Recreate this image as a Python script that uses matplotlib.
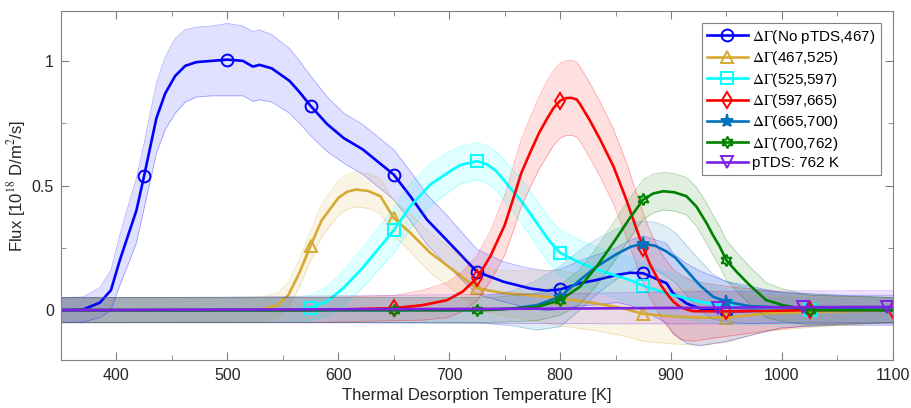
import numpy as np
import matplotlib
matplotlib.use("Agg")
import matplotlib.pyplot as plt

plt.rcParams["font.family"] = ["Liberation Sans", "DejaVu Sans"]
plt.rcParams["mathtext.fontset"] = "stix"

# temperature [K], flux [1e18 D/m^2/s], band half width, marker positions
blue_x = [350, 370, 385, 395, 403, 412, 418, 425, 436, 444, 453, 462, 472, 486, 500, 514, 523, 529, 540, 556,
          565, 575, 590, 605, 622, 650, 665, 680, 698, 725, 749, 773, 788, 800, 818, 833, 851, 863, 875, 896,
          902, 914, 926, 950, 1000, 1050, 1100]
blue_y = [0.0, 0.003, 0.03, 0.08, 0.2, 0.32, 0.40, 0.54, 0.77, 0.87, 0.94, 0.98, 0.995, 1.0, 1.005, 1.0, 0.977,
          0.984, 0.97, 0.92, 0.875, 0.82, 0.746, 0.69, 0.645, 0.544, 0.457, 0.363, 0.28, 0.154, 0.114, 0.087,
          0.078, 0.083, 0.108, 0.121, 0.141, 0.15, 0.148, 0.108, 0.067, 0.027, 0.007, -0.005, 0.0, 0.0, 0.0]
blue_err = [0.05, 0.05, 0.06, 0.08, 0.1, 0.12, 0.13, 0.13, 0.14, 0.145, 0.15, 0.145, 0.14, 0.14, 0.145, 0.14,
            0.14, 0.14, 0.135, 0.13, 0.125, 0.12, 0.11, 0.1, 0.1, 0.1, 0.1, 0.1, 0.1, 0.09, 0.08, 0.08, 0.08,
            0.08, 0.09, 0.1, 0.11, 0.13, 0.15, 0.16, 0.16, 0.16, 0.15, 0.12, 0.07, 0.06, 0.06]
blue_marks = [425, 500, 575, 650, 725, 800, 875, 950]

gold_x = [350, 500, 530, 545, 555, 565, 575, 585, 600, 608, 616, 627, 638, 650, 665, 683, 707, 725, 749, 773,
          800, 833, 857, 875, 900, 925, 950, 986, 1031, 1100]
gold_y = [0, 0, 0.002, 0.02, 0.06, 0.15, 0.258, 0.36, 0.45, 0.475, 0.484, 0.478, 0.457, 0.37, 0.31, 0.23, 0.149,
          0.088, 0.068, 0.06, 0.048, 0.027, 0.007, -0.015, -0.025, -0.03, -0.03, -0.013, -0.007, 0.0]
gold_err = [0.05, 0.05, 0.05, 0.05, 0.05, 0.055, 0.06, 0.065, 0.07, 0.07, 0.07, 0.07, 0.07, 0.07, 0.075, 0.08,
            0.08, 0.085, 0.09, 0.1, 0.11, 0.11, 0.11, 0.11, 0.11, 0.11, 0.1, 0.07, 0.06, 0.05]
gold_marks = [575, 650, 725, 800, 875, 950]

cyan_x = [350, 550, 565, 575, 590, 605, 622, 650, 665, 683, 701, 710, 725, 734, 742, 749, 756, 764, 771, 779,
          790, 800, 818, 839, 863, 875, 896, 926, 950, 975, 1025, 1100]
cyan_y = [0, 0, 0.003, 0.01, 0.035, 0.09, 0.17, 0.32, 0.417, 0.504, 0.558, 0.582, 0.598, 0.585, 0.56, 0.524,
          0.485, 0.444, 0.4, 0.35, 0.28, 0.23, 0.19, 0.154, 0.121, 0.098, 0.067, 0.034, 0.015, 0.008, 0.0, 0.0]
cyan_err = [0.05, 0.05, 0.05, 0.05, 0.06, 0.07, 0.08, 0.09, 0.09, 0.085, 0.08, 0.075, 0.075, 0.075, 0.078, 0.08,
            0.085, 0.09, 0.09, 0.09, 0.09, 0.09, 0.09, 0.09, 0.09, 0.09, 0.085, 0.08, 0.07, 0.065, 0.06, 0.05]
cyan_marks = [575, 650, 725, 800, 875, 950, 1025]

red_x = [350, 575, 650, 676, 698, 712, 725, 737, 750, 758, 765, 773, 781, 788, 794, 800, 805, 810, 815, 818,
         827, 836, 842, 848, 854, 860, 867, 875, 881, 887, 891, 896, 902, 908, 914, 920, 950, 1025, 1100]
red_y = [0, 0, 0.008, 0.02, 0.04, 0.074, 0.128, 0.215, 0.34, 0.45, 0.55, 0.632, 0.71, 0.766, 0.81, 0.84, 0.85,
         0.852, 0.845, 0.827, 0.76, 0.686, 0.632, 0.578, 0.51, 0.44, 0.35, 0.25, 0.185, 0.134, 0.1, 0.068,
         0.035, 0.013, 0.003, -0.004, -0.005, 0.0, 0.0]
red_err = [0.05, 0.05, 0.05, 0.06, 0.07, 0.08, 0.09, 0.1, 0.12, 0.13, 0.135, 0.14, 0.145, 0.15, 0.15, 0.15,
           0.15, 0.15, 0.15, 0.15, 0.15, 0.15, 0.15, 0.15, 0.15, 0.15, 0.145, 0.14, 0.135, 0.13, 0.13, 0.13,
           0.13, 0.13, 0.125, 0.12, 0.1, 0.06, 0.05]
red_marks = [650, 725, 800, 875, 950, 1025, 1100]

mblue_x = [350, 725, 758, 779, 800, 818, 833, 851, 864, 875, 886, 896, 904, 911, 918, 926, 938, 950, 971, 1001,
           1100]
mblue_y = [0, 0, 0.007, 0.02, 0.054, 0.121, 0.175, 0.225, 0.255, 0.266, 0.258, 0.235, 0.21, 0.175, 0.14, 0.1,
           0.054, 0.034, 0.016, 0.011, 0.0]
mblue_err = [0.05, 0.05, 0.07, 0.1, 0.12, 0.12, 0.11, 0.1, 0.095, 0.09, 0.095, 0.1, 0.1, 0.1, 0.1, 0.1, 0.09,
             0.08, 0.07, 0.06, 0.05]
mblue_marks = [800, 875, 950]

green_x = [350, 650, 725, 743, 779, 800, 818, 833, 848, 863, 875, 884, 893, 903, 914, 923, 932, 938, 944, 950,
           960, 971, 986, 1001, 1025, 1100]
green_y = [0, 0, 0.0, 0.002, 0.013, 0.04, 0.094, 0.175, 0.27, 0.37, 0.444, 0.468, 0.477, 0.473, 0.457, 0.415,
           0.35, 0.3, 0.255, 0.2, 0.15, 0.1, 0.04, 0.02, 0.0, 0.0]
green_err = [0.05, 0.05, 0.05, 0.05, 0.055, 0.06, 0.07, 0.075, 0.08, 0.08, 0.08, 0.078, 0.075, 0.075, 0.075,
             0.078, 0.08, 0.08, 0.08, 0.08, 0.078, 0.075, 0.07, 0.065, 0.06, 0.05]
green_marks = [650, 725, 800, 875, 950, 1025]

purple_x = [350, 487, 639, 791, 942, 1019, 1095, 1100]
purple_y = [0.0, 0.002, 0.004, 0.006, 0.01, 0.012, 0.013, 0.013]
purple_err = [0.05, 0.05, 0.055, 0.06, 0.065, 0.065, 0.065, 0.065]
purple_marks = [942, 1019, 1095]

series = [
    (blue_x, blue_y, blue_err, blue_marks, "#0000FF", "o", r"$\Delta\Gamma$(No pTDS,467)"),
    (gold_x, gold_y, gold_err, gold_marks, "#D6A930", "^", r"$\Delta\Gamma$(467,525)"),
    (cyan_x, cyan_y, cyan_err, cyan_marks, "#00FFFF", "s", r"$\Delta\Gamma$(525,597)"),
    (red_x, red_y, red_err, red_marks, "#FF0000", "d", r"$\Delta\Gamma$(597,665)"),
    (mblue_x, mblue_y, mblue_err, mblue_marks, "#0072BD", "*", r"$\Delta\Gamma$(665,700)"),
    (green_x, green_y, green_err, green_marks, "#008000", (6, 1, 0), r"$\Delta\Gamma$(700,762)"),
    (purple_x, purple_y, purple_err, purple_marks, "#7E1FE6", "v", "pTDS: 762 K"),
]

fig = plt.figure(figsize=(9.12, 4.08), dpi=100)
ax = fig.add_axes([0.0669, 0.1176, 0.912, 0.8554])

for x, y, err, marks, c, m, label in series:
    x = np.array(x, dtype=float)
    y = np.array(y)
    err = np.array(err)
    ax.fill_between(x, y - err, y + err, color=c, alpha=0.12, lw=0)
    ax.plot(x, y + err, color=c, alpha=0.3, lw=0.6)
    ax.plot(x, y - err, color=c, alpha=0.3, lw=0.6)
    idx = [list(x).index(v) for v in marks]
    filled = m == "*"
    ax.plot(x, y, color=c, lw=1.9, marker=m, markevery=idx, markersize=9.5 if filled else 8.5,
            markerfacecolor=c if filled else "none", markeredgewidth=1.4, label=label)

ax.set_xlim(350, 1100)
ax.set_ylim(-0.2, 1.2)
ax.set_xticks(range(400, 1101, 100))
ax.set_xticks(range(350, 1101, 50), minor=True)
ax.set_yticks([0, 0.5, 1])
ax.set_yticklabels(["0", "0.5", "1"])
ax.set_yticks([0.25, 0.75], minor=True)
ax.tick_params(which="both", direction="in", top=True, right=True, colors="#808080",
               labelcolor="#262626", labelsize=11.5)
ax.tick_params(which="major", length=6)
ax.tick_params(which="minor", length=3.5)
ax.tick_params(axis="x", pad=6)
ax.tick_params(axis="y", pad=5)
for s in ax.spines.values():
    s.set_color("#808080")
    s.set_linewidth(0.8)

ax.set_xlabel("Thermal Desorption Temperature [K]", fontsize=12, color="#262626", labelpad=3)
ax.set_ylabel(r"Flux [10$^{18}$ D/m$^2$/s]", fontsize=12, color="#262626", labelpad=3)

leg = ax.legend(loc="upper right", fontsize=11, handlelength=2.7, labelspacing=0.22, borderaxespad=0.8,
                fancybox=False, framealpha=1, edgecolor="#808080", handletextpad=0.3, borderpad=0.3)
leg.get_frame().set_linewidth(0.8)

fig.savefig("out.png", dpi=100)
